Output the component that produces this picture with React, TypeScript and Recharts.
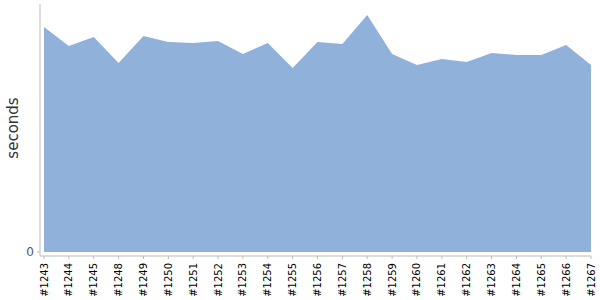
import { Area, AreaChart, XAxis, YAxis } from 'recharts'

// build numbers shown on the x axis (gaps are real: #1246/#1247 missing)
const builds = [
  '#1243', '#1244', '#1245', '#1248', '#1249', '#1250', '#1251', '#1252',
  '#1253', '#1254', '#1255', '#1256', '#1257', '#1258', '#1259', '#1260',
  '#1261', '#1262', '#1263', '#1264', '#1265', '#1266', '#1267',
]

// build duration
const seconds = [
  225, 206, 215, 189, 216, 210, 209, 211, 198, 209, 184, 210,
  208, 237, 198, 187, 193, 190, 199, 197, 197, 207, 187,
]

const yTicks = [0]

const data = builds.map((build, i) => ({ build, seconds: seconds[i] }))

const FONT = '"DejaVu Sans", sans-serif'

function BuildTick({ x, y, payload }: { x: number; y: number; payload: { value: string } }) {
  return (
    <text
      x={x}
      y={y}
      transform={`rotate(-90, ${x}, ${y})`}
      textAnchor="end"
      dy="0.35em"
      fontSize={10}
      fontFamily={FONT}
      fill="#000"
    >
      {payload.value}
    </text>
  )
}

// axis title sits left of the y axis, centred on the plot height
function SecondsLabel() {
  const x = 13
  const y = 128
  return (
    <text
      x={x}
      y={y}
      transform={`rotate(-90, ${x}, ${y})`}
      textAnchor="middle"
      dy="0.35em"
      fontSize={15}
      fontFamily={FONT}
      fill="#333"
    >
      seconds
    </text>
  )
}

export default function App() {
  return (
    <div style={{ position: 'absolute', left: 0, top: 0, width: 600, height: 300, background: '#fff' }}>
      <AreaChart
        width={600}
        height={300}
        data={data}
        margin={{ top: 4, right: 9, bottom: 0, left: 0 }}
      >
        <XAxis
          dataKey="build"
          interval={0}
          height={44}
          padding={{ left: 4, right: 0 }}
          axisLine={{ stroke: '#bbb' }}
          tickLine={{ stroke: '#bbb' }}
          tickSize={3}
          tickMargin={4}
          tick={BuildTick}
        />
        <YAxis
          width={40}
          domain={[-4, 248]}
          ticks={yTicks}
          axisLine={{ stroke: '#bbb' }}
          tickLine={{ stroke: '#bbb' }}
          tickSize={3}
          tickMargin={3}
          tick={{ fontSize: 12, fill: '#555', fontFamily: FONT }}
          label={SecondsLabel}
        />
        <Area
          type="linear"
          dataKey="seconds"
          stroke="none"
          fill="#8fb1da"
          fillOpacity={1}
          isAnimationActive={false}
        />
      </AreaChart>
    </div>
  )
}
